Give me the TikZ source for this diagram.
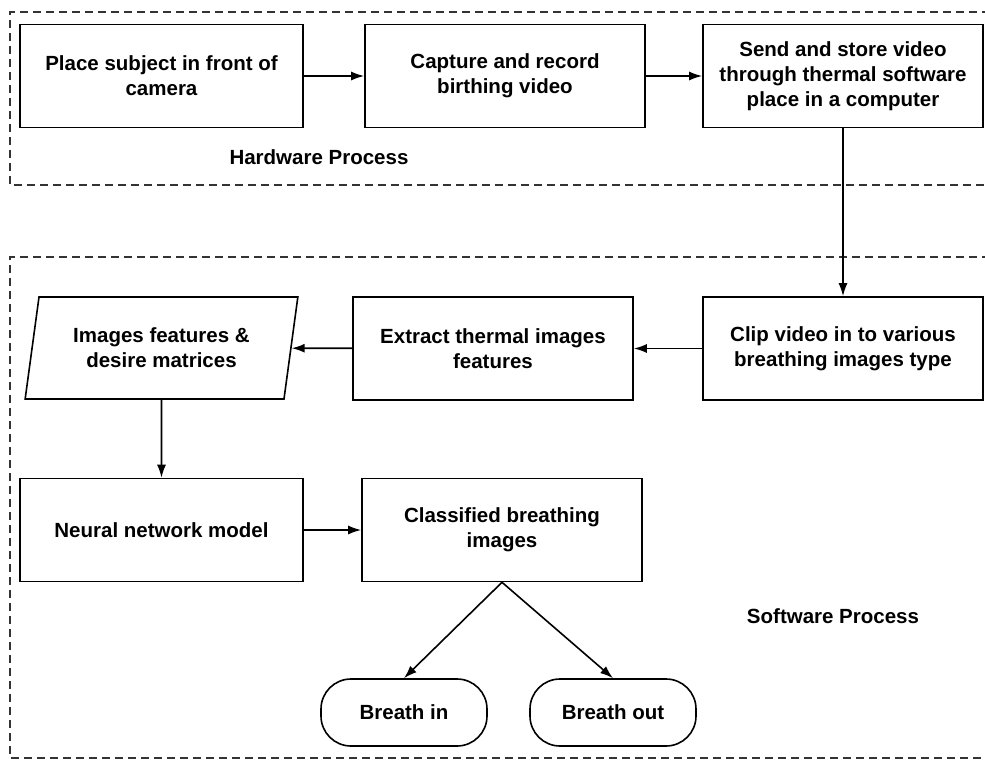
\documentclass[tikz,border=0pt]{standalone}
\usepackage{fontspec}
\setmainfont{Liberation Sans}
\usetikzlibrary{arrows.meta,shapes.geometric}

\begin{document}
\begin{tikzpicture}[x=1pt,y=-1pt,
  font=\fontsize{20.5}{25}\selectfont\bfseries,
  procbox/.style={draw,line width=1.6pt,minimum width=#1,minimum height=103pt,align=center,inner sep=0pt},
  endbox/.style={draw,line width=1.6pt,rounded corners=30pt,minimum width=166pt,minimum height=67pt},
  databox/.style={draw,line width=1.6pt,trapezium,trapezium left angle=76,trapezium right angle=104,trapezium stretches=true,minimum width=273pt,minimum height=102pt,align=center,inner sep=0pt},
  zone/.style={line width=1.5pt,dash pattern=on 8pt off 5pt,color=black!80},
  flow/.style={line width=1.6pt,-{Latex[length=13pt,width=9pt]}}]

\useasboundingbox (0,0) rectangle (985,763);
\clip (0,0) rectangle (985,763);

\draw[zone] (990,12) -- (10,12) -- (10,185) -- (990,185);
\draw[zone] (990,257) -- (10,257) -- (10,758) -- (990,758);

\node[procbox=283pt] (place) at (161.5,76) {Place subject in front of\\camera};
\node[procbox=280pt] (capture) at (505,76) {Capture and record\\birthing video};
\node[procbox=280pt] (send) at (843,76) {Send and store video\\through thermal software\\place in a computer};
\node (hw) at (319,157) {Hardware Process};

\node[procbox=280pt] (clip) at (843,348.5) {Clip video in to various\\breathing images type};
\node[procbox=280pt] (extract) at (493,348.5) {Extract thermal images\\features};
\node[databox] (feat) at (161.5,348) {Images features \&\\desire matrices};
\node[procbox=283pt] (neural) at (161.5,530) {Neural network model};
\node[procbox=280pt] (classed) at (502,530) {Classified breathing\\images};
\node[endbox] (bin) at (404,712.5) {Breath in};
\node[endbox] (bout) at (613,712.5) {Breath out};
\node (sw) at (833,616) {Software Process};

\draw[flow] (place) -- (capture);
\draw[flow] (capture) -- (send);
\draw[flow] (send) -- (clip);
\draw[flow] (clip) -- (extract);
\draw[flow] (extract) -- (feat);
\draw[flow] (feat) -- (neural);
\draw[flow] (neural) -- (classed);
\draw[flow] (classed.south) -- (bin.north);
\draw[flow] (classed.south) -- (bout.north);

\end{tikzpicture}
\end{document}
